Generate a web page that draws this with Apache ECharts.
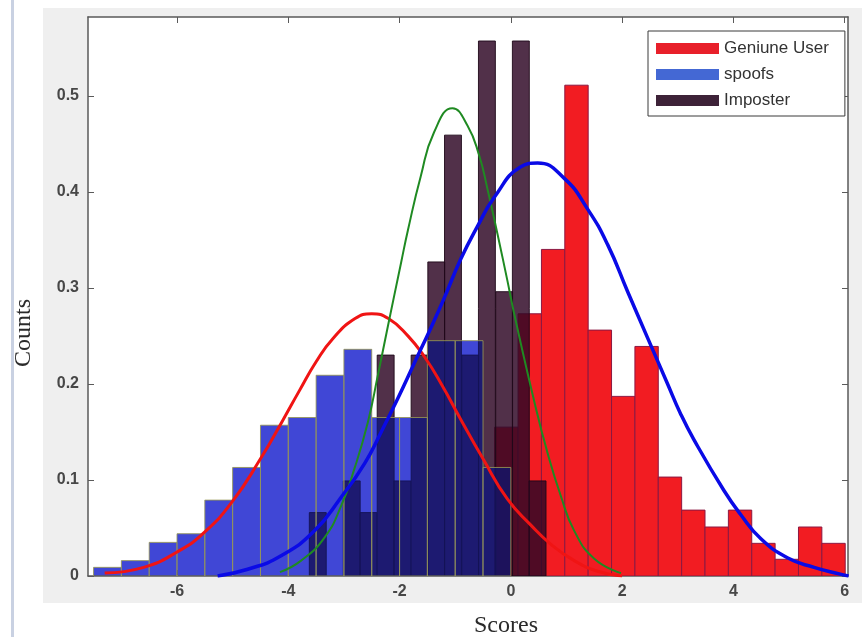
<!DOCTYPE html>
<html>
<head>
<meta charset="utf-8">
<title>Score distributions</title>
<script src="https://cdn.jsdelivr.net/npm/echarts@6/dist/echarts.min.js"></script>
<style>
  html, body { margin: 0; padding: 0; background: #ffffff; }
  #chart { width: 868px; height: 637px; }
</style>
</head>
<body>
<div id="chart"></div>
<script>
// ---- histogram data (bin centres, bar heights, bin width) ----
const genuineCenters = [-0.08, 0.34, 0.76, 1.18, 1.60, 2.02, 2.44, 2.86, 3.28, 3.70, 4.12, 4.54, 4.96, 5.38, 5.80];
const genuineCounts  = [0.155, 0.273, 0.340, 0.511, 0.256, 0.187, 0.239, 0.103, 0.0686, 0.051, 0.0686, 0.034, 0.0174, 0.051, 0.034];
const genuineWidth = 0.42;

const spoofCenters = [-7.25, -6.75, -6.25, -5.75, -5.25, -4.75, -4.25, -3.75, -3.25, -2.75, -2.25, -1.75, -1.25, -0.75, -0.25];
const spoofCounts  = [0.009, 0.016, 0.035, 0.044, 0.079, 0.113, 0.157, 0.165, 0.209, 0.236, 0.165, 0.165, 0.245, 0.245, 0.113];
const spoofWidth = 0.5;

const imposterCenters = [-3.47, -3.16, -2.86, -2.56, -2.25, -1.95, -1.64, -1.34, -1.04, -0.73, -0.43, -0.12, 0.18, 0.48];
const imposterCounts  = [0.066, 0, 0.099, 0.066, 0.230, 0.099, 0.230, 0.327, 0.459, 0.230, 0.557, 0.296, 0.557, 0.099];
const imposterWidth = 0.304;

// ---- fitted density curves, [score, count] ----
const redFit = [[-7.3, 0.003], [-6.6, 0.009], [-6.0, 0.025], [-5.5, 0.046], [-5.0, 0.078], [-4.5, 0.122],
  [-4.1, 0.162], [-3.8, 0.193], [-3.5, 0.223], [-3.2, 0.247], [-2.8, 0.268], [-2.5, 0.273], [-2.2, 0.268],
  [-1.85, 0.250], [-1.55, 0.228], [-1.25, 0.200], [-0.9, 0.163], [-0.5, 0.122], [-0.06, 0.080], [0.36, 0.053],
  [0.72, 0.033], [1.14, 0.016], [1.56, 0.005], [2.0, 0.0]];
const greenFit = [[-4.15, 0.004], [-3.77, 0.016], [-3.35, 0.040], [-3.05, 0.073], [-2.81, 0.112], [-2.57, 0.160],
  [-2.39, 0.209], [-2.21, 0.260], [-1.97, 0.327], [-1.85, 0.360], [-1.62, 0.416], [-1.38, 0.462], [-1.05, 0.487],
  [-0.78, 0.469], [-0.57, 0.438], [-0.42, 0.403], [-0.24, 0.356], [-0.06, 0.307], [0.06, 0.273], [0.42, 0.182],
  [0.66, 0.128], [0.90, 0.083], [1.14, 0.047], [1.50, 0.018], [1.98, 0.003]];
const blueFit = [[-5.27, 0.0], [-4.73, 0.007], [-4.13, 0.021], [-3.53, 0.047], [-3.05, 0.082], [-2.63, 0.117],
  [-2.33, 0.150], [-2.03, 0.185], [-1.74, 0.221], [-1.44, 0.258], [-1.20, 0.289], [-0.90, 0.330], [-0.60, 0.364],
  [-0.30, 0.394], [0.18, 0.426], [0.48, 0.430], [0.96, 0.414], [1.38, 0.382], [1.74, 0.345], [2.10, 0.296],
  [2.45, 0.249], [2.81, 0.201], [3.05, 0.169], [3.29, 0.142], [3.83, 0.089], [4.13, 0.064], [4.49, 0.039],
  [4.97, 0.019], [5.45, 0.009], [5.92, 0.002], [6.07, 0.0]];

// ---- axis ticks ----
const xTicks = [-6, -4, -2, 0, 2, 4, 6];
const yTicks = [0, 0.1, 0.2, 0.3, 0.4, 0.5];
const legendNames = ['Geniune User', 'spoofs', 'Imposter'];

const chart = echarts.init(document.getElementById('chart'), null, { renderer: 'canvas' });

// One rectangle per bin, drawn from [left edge, right edge, height].
function histogram(name, centers, counts, width, fill, stroke, extra) {
  return Object.assign({
    type: 'custom',
    name: name,
    data: centers.map((c, i) => [c - width / 2, c + width / 2, counts[i]]),
    encode: { x: [0, 1], y: 2 },
    clip: true,
    renderItem: function (params, api) {
      if (!(api.value(2) > 0)) return null;
      const p0 = api.coord([api.value(0), api.value(2)]);
      const p1 = api.coord([api.value(1), 0]);
      return {
        type: 'rect',
        shape: { x: p0[0], y: p0[1], width: p1[0] - p0[0], height: p1[1] - p0[1] },
        style: { fill: fill, stroke: stroke, lineWidth: stroke === 'none' ? 0 : 1 }
      };
    }
  }, extra || {});
}

function fitLine(data, color, width) {
  return {
    type: 'line',
    data: data,
    smooth: 0.5,
    showSymbol: false,
    symbol: 'none',
    silent: true,
    lineStyle: { color: color, width: width },
    z: 5
  };
}

const axisColor = '#5a5a5a';
const labelStyle = { color: '#474747', fontSize: 16, fontWeight: 'bold', fontFamily: 'Liberation Sans, Arial, sans-serif' };

const option = {
  backgroundColor: '#ffffff',
  animation: false,
  graphic: [
    { type: 'rect', z: -100, shape: { x: 43, y: 8, width: 819, height: 595 }, style: { fill: '#efefef' } },
    { type: 'rect', z: -100, shape: { x: 11, y: 0, width: 3, height: 637 }, style: { fill: '#c9d1e2' } },
    { type: 'text', z: 10, x: 24, y: 333, rotation: Math.PI / 2,
      style: { text: 'Counts', fontSize: 24, fontFamily: 'Liberation Serif, Times New Roman, serif',
               fill: '#2a2a2a', align: 'center', verticalAlign: 'middle' } },
    { type: 'text', z: 10, x: 506, y: 626,
      style: { text: 'Scores', fontSize: 24, fontFamily: 'Liberation Serif, Times New Roman, serif',
               fill: '#2a2a2a', align: 'center', verticalAlign: 'middle' } }
  ],
  grid: { left: 88, right: 20, top: 17, bottom: 61, show: true, backgroundColor: '#ffffff', borderWidth: 0 },
  legend: {
    orient: 'vertical',
    left: 648, top: 31,
    padding: [9, 16, 7, 8],
    itemGap: 9,
    itemWidth: 63,
    itemHeight: 11,
    icon: 'rect',
    backgroundColor: '#ffffff',
    borderColor: '#3a3a3a',
    borderWidth: 1,
    textStyle: { color: '#333333', fontSize: 17, lineHeight: 17, fontFamily: 'Liberation Sans, Arial, sans-serif' },
    data: [
      { name: legendNames[0], itemStyle: { color: '#e8202a', opacity: 1, borderWidth: 0 } },
      { name: legendNames[1], itemStyle: { color: '#4468d4', opacity: 1, borderWidth: 0 } },
      { name: legendNames[2], itemStyle: { color: '#3d2238', opacity: 1, borderWidth: 0 } }
    ]
  },
  xAxis: [
    {
      type: 'value', min: -7.6, max: 6.06, position: 'bottom',
      axisLine: { show: true, onZero: false, lineStyle: { color: axisColor, width: 1.5 } },
      axisTick: { show: true, inside: true, length: 6, customValues: xTicks, lineStyle: { color: axisColor } },
      axisLabel: { margin: 8, customValues: xTicks, ...labelStyle },
      splitLine: { show: false }
    },
    {
      type: 'value', min: -7.6, max: 6.06, position: 'top',
      axisLine: { show: true, onZero: false, lineStyle: { color: axisColor, width: 1.5 } },
      axisTick: { show: true, inside: true, length: 6, customValues: xTicks, lineStyle: { color: axisColor } },
      axisLabel: { show: false },
      splitLine: { show: false }
    }
  ],
  yAxis: [
    {
      type: 'value', min: 0, max: 0.582, position: 'left',
      axisLine: { show: true, onZero: false, lineStyle: { color: axisColor, width: 1.5 } },
      axisTick: { show: true, inside: true, length: 6, customValues: yTicks, lineStyle: { color: axisColor } },
      axisLabel: { margin: 9, customValues: yTicks, ...labelStyle },
      splitLine: { show: false }
    },
    {
      type: 'value', min: 0, max: 0.582, position: 'right',
      axisLine: { show: true, onZero: false, lineStyle: { color: axisColor, width: 1.5 } },
      axisTick: { show: true, inside: true, length: 6, customValues: yTicks, lineStyle: { color: axisColor } },
      axisLabel: { show: false },
      splitLine: { show: false }
    }
  ],
  series: [
    histogram(legendNames[0], genuineCenters, genuineCounts, genuineWidth,
      '#f21c22', '#8c1842', { itemStyle: { color: '#e8202a' } }),
    histogram(legendNames[2], imposterCenters, imposterCounts, imposterWidth,
      'rgba(48,8,38,0.84)', 'rgba(30,8,24,0.9)', { itemStyle: { color: '#3d2238' } }),
    // spoofs, pass 1: multiply darkens whatever lies underneath
    histogram(legendNames[1], spoofCenters, spoofCounts, spoofWidth,
      'rgb(73,80,204)', 'none', { blendMode: 'multiply', itemStyle: { color: '#4468d4' } }),
    // spoofs, pass 2: translucent tint and bin edges
    histogram(legendNames[1], spoofCenters, spoofCounts, spoofWidth,
      'rgba(43,53,237,0.3)', 'rgba(150,150,85,0.85)', { itemStyle: { color: '#4468d4' } }),
    fitLine(redFit, '#f01414', 3),
    fitLine(greenFit, '#1f8a22', 2),
    fitLine(blueFit, '#0a0ae6', 3.5)
  ]
};

chart.setOption(option);
</script>
</body>
</html>
